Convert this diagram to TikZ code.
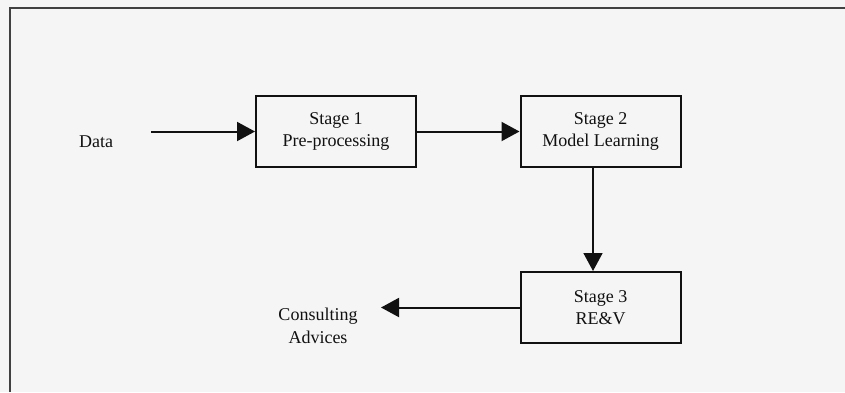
\documentclass[tikz,border=0pt]{standalone}
\usepackage{fontspec}
\setmainfont{Liberation Serif}
\usetikzlibrary{arrows.meta}
\definecolor{bg}{HTML}{F5F5F5}
\definecolor{ink}{HTML}{111111}
\tikzset{
  stagebox/.style={draw=ink, line width=2pt, minimum width=160pt, minimum height=71pt, inner sep=0pt, align=center, font=\fontsize{18}{22.5}\selectfont, text=ink},
  lbl/.style={inner sep=0pt, align=center, font=\fontsize{18}{22.5}\selectfont, text=ink},
  arr/.style={draw=ink, line width=2pt, -{Triangle[length=18pt,width=19pt]}},
  frame/.style={draw=ink!80, line width=1.8pt}
}
\begin{document}
\begin{tikzpicture}[x=1pt,y=-1pt]
\fill[bg] (0,0) rectangle (845,392);
\useasboundingbox (0,0) rectangle (845,392);
\draw[frame] (10,392) -- (10,8) -- (845,8);
\node[stagebox] (b1) at (336,131.5) {Stage 1\\Pre-processing};
\node[stagebox] (b2) at (600.5,131.5) {Stage 2\\Model Learning};
\node[stagebox] (b3) at (600.5,307.5) {Stage 3\\RE\&V};
\node[lbl] (data) at (96,142) {Data};
\node[lbl] (cons) at (318,326) {Consulting\\Advices};
\coordinate (din) at (151,131.5);
\coordinate (cout) at (381,307.5);
\draw[arr] (din) -- (b1.west);
\draw[arr] (b1.east) -- (b2.west);
\draw[arr, line width=1.6pt] ([xshift=-7.5pt]b2.south) -- ([xshift=-7.5pt]b3.north);
\draw[arr] (b3.west) -- (cout);
\end{tikzpicture}
\end{document}
